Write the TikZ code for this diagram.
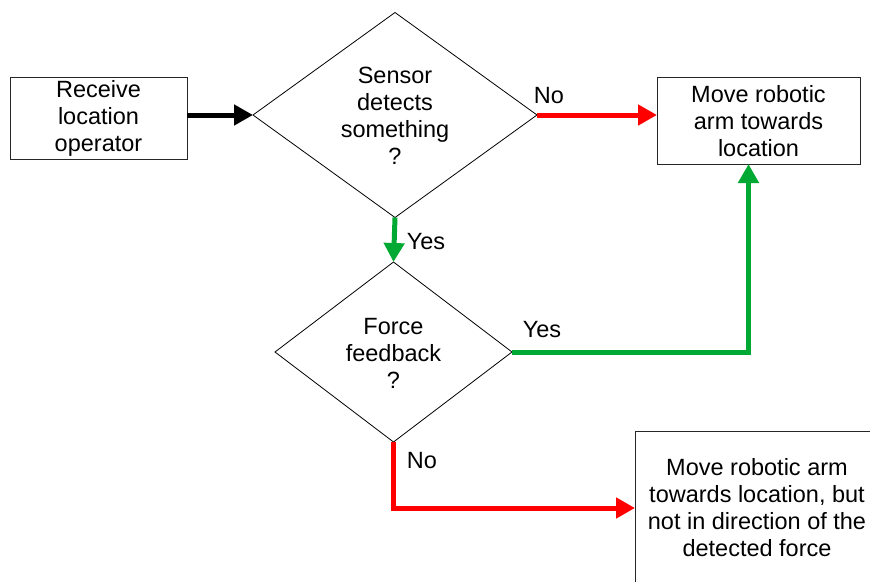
\documentclass[tikz,border=0pt]{standalone}
\usepackage{fontspec}
\setmainfont{Liberation Sans}
\usetikzlibrary{arrows.meta,shapes.geometric}
\definecolor{fred}{RGB}{255,0,0}
\definecolor{fgreen}{RGB}{0,169,51}
\begin{document}
\begin{tikzpicture}[x=1pt,y=-1pt,
  every node/.style={font=\fontsize{23.5}{27}\selectfont},
  box/.style={draw=black!85, line width=1pt, inner sep=0pt, outer sep=0pt, align=center},
  dia/.style={draw=black, line width=0.8pt, diamond, inner sep=0pt, outer sep=0pt},
  txt/.style={align=center, inner sep=0pt},
  lbl/.style={inner sep=0pt},
  conn/.style={line width=5pt, -{Triangle[length=19pt,width=20pt]}},
]
\clip (0,0) rectangle (870,581);
\fill[white] (0,0) rectangle (870,581);

\node[box, minimum width=177pt, minimum height=82pt] (b1) at (98.5,118) {};
\node[txt] (t1) at (98.5,118) {Receive\\location\\operator};

\node[dia, minimum width=284pt, minimum height=205pt] (d1) at (395,115) {};
\node[txt] (t2) at (395,116) {Sensor\\detects\\something\\?};

\node[box, minimum width=203pt, minimum height=87pt] (b2) at (758.5,120.5) {};
\node[txt] (t3) at (758.5,121) {Move robotic\\arm towards\\location};

\node[dia, minimum width=237pt, minimum height=180pt] (d2) at (393.5,352) {};
\node[txt] (t4) at (393.5,353) {Force\\feedback\\?};

\node[box, minimum width=244pt, minimum height=154pt] (b3) at (757,508) {};
\node[txt] (t5) at (757,508) {Move robotic arm\\towards location, but\\not in direction of the\\detected force};

\draw[conn, black] (d1.west -| b1.east) -- (d1.west);
\draw[conn, fred] (d1.east) -- (d1.east -| b2.west);
\draw[conn, fgreen] (d1.south) -- (d2.north);
\draw[conn, fgreen] (d2.east) -| ([xshift=-10pt]b2.south);
\draw[conn, fred] (d2.south) |- (b3.west);

\node[lbl] (l1) at (549,96) {No};
\node[lbl] (l2) at (426,242) {Yes};
\node[lbl] (l3) at (542,330) {Yes};
\node[lbl] (l4) at (422,461) {No};
\end{tikzpicture}
\end{document}
